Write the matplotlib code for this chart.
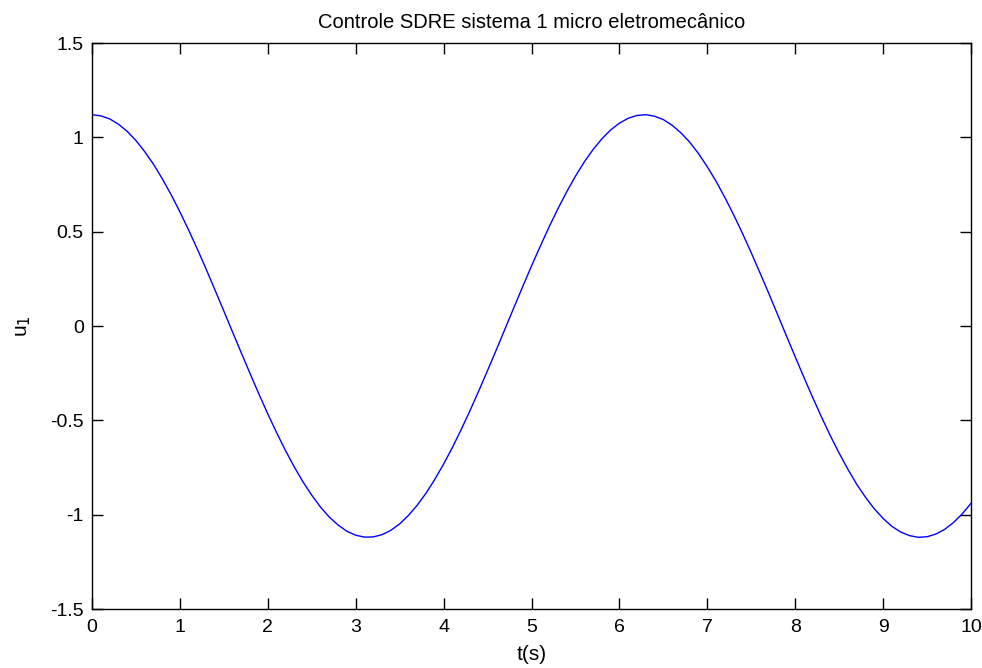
import matplotlib
matplotlib.use("Agg")
import matplotlib.pyplot as plt

# values, every 0.1 s
t = [0.0, 0.1, 0.2, 0.3, 0.4, 0.5, 0.6, 0.7, 0.8, 0.9,
     1.0, 1.1, 1.2, 1.3, 1.4, 1.5, 1.6, 1.7, 1.8, 1.9,
     2.0, 2.1, 2.2, 2.3, 2.4, 2.5, 2.6, 2.7, 2.8, 2.9,
     3.0, 3.1, 3.2, 3.3, 3.4, 3.5, 3.6, 3.7, 3.8, 3.9,
     4.0, 4.1, 4.2, 4.3, 4.4, 4.5, 4.6, 4.7, 4.8, 4.9,
     5.0, 5.1, 5.2, 5.3, 5.4, 5.5, 5.6, 5.7, 5.8, 5.9,
     6.0, 6.1, 6.2, 6.3, 6.4, 6.5, 6.6, 6.7, 6.8, 6.9,
     7.0, 7.1, 7.2, 7.3, 7.4, 7.5, 7.6, 7.7, 7.8, 7.9,
     8.0, 8.1, 8.2, 8.3, 8.4, 8.5, 8.6, 8.7, 8.8, 8.9,
     9.0, 9.1, 9.2, 9.3, 9.4, 9.5, 9.6, 9.7, 9.8, 9.9, 10.0]
u1 = [1.120, 1.114, 1.098, 1.070, 1.032, 0.983, 0.924, 0.857, 0.780, 0.696,
      0.605, 0.508, 0.406, 0.300, 0.190, 0.079, -0.033, -0.144, -0.254, -0.362,
      -0.466, -0.565, -0.659, -0.746, -0.826, -0.897, -0.960, -1.013, -1.055, -1.088,
      -1.109, -1.119, -1.118, -1.106, -1.083, -1.049, -1.004, -0.950, -0.886, -0.813,
      -0.732, -0.644, -0.549, -0.449, -0.344, -0.236, -0.126, -0.014, 0.098, 0.209,
      0.318, 0.423, 0.525, 0.621, 0.711, 0.794, 0.869, 0.935, 0.992, 1.039,
      1.075, 1.101, 1.116, 1.120, 1.112, 1.094, 1.064, 1.024, 0.974, 0.914,
      0.844, 0.767, 0.681, 0.589, 0.491, 0.388, 0.281, 0.172, 0.060, -0.052,
      -0.163, -0.273, -0.380, -0.483, -0.582, -0.674, -0.760, -0.839, -0.908, -0.969,
      -1.020, -1.062, -1.092, -1.111, -1.120, -1.117, -1.103, -1.078, -1.042, -0.996, -0.940]

xticks = [0, 1, 2, 3, 4, 5, 6, 7, 8, 9, 10]
yticks = [-1.5, -1, -0.5, 0, 0.5, 1, 1.5]
ytick_labels = ["-1.5", "-1", "-0.5", "0", "0.5", "1", "1.5"]

plt.rcParams["font.family"] = ["Liberation Sans", "DejaVu Sans"]
plt.rcParams["font.size"] = 14

fig = plt.figure(figsize=(9.82, 6.68), dpi=100)
ax = fig.add_axes([92 / 982, 1 - 609 / 668, (971 - 92) / 982, (609 - 43) / 668])

ax.plot(t, u1, color="#0000ff", linewidth=1.0)

ax.set_xlim(0, 10)
ax.set_ylim(-1.5, 1.5)
ax.set_xticks(xticks)
ax.set_yticks(yticks)
ax.set_yticklabels(ytick_labels)
ax.tick_params(direction="in", length=8, width=1, top=True, right=True)
ax.tick_params(axis="x", pad=7)
ax.tick_params(axis="y", pad=6)
for s in ax.spines.values():
    s.set_linewidth(1)

ax.set_title("Controle SDRE sistema 1 micro eletromecânico", fontsize=14.5, pad=11)
ax.set_xlabel("t(s)", fontsize=15, labelpad=7)
ax.set_ylabel("u$_1$", fontsize=15, labelpad=12)

fig.savefig("out.png", dpi=100)
